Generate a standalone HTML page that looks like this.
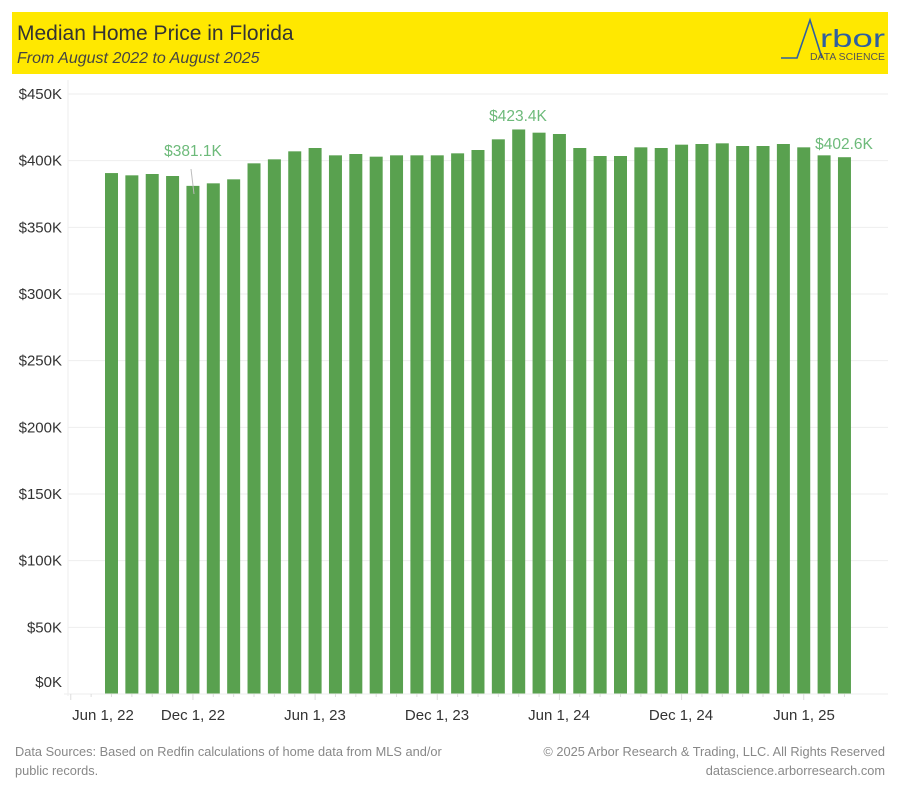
<!DOCTYPE html>
<html><head><meta charset="utf-8"><style>
html,body{margin:0;padding:0;background:#fff;width:900px;height:800px;overflow:hidden}
svg{display:block}
text{font-family:"Liberation Sans",sans-serif}
</style></head><body>
<svg width="900" height="800" viewBox="0 0 900 800" xmlns="http://www.w3.org/2000/svg">
<rect x="12" y="12" width="876" height="62" fill="#FFE800"/>
<text x="17" y="40" font-size="21" fill="#333">Median Home Price in Florida</text>
<text x="17" y="63" font-size="16" font-style="italic" fill="#444">From August 2022 to August 2025</text>
<polyline points="781,58 797,58 810,20 822,58" fill="none" stroke="#2f5fa0" stroke-width="1.6"/>
<text x="820" y="47" font-size="25" fill="#2f5fa0" textLength="65" lengthAdjust="spacingAndGlyphs">rbor</text>
<text x="810" y="60" font-size="10" fill="#555" textLength="75" lengthAdjust="spacingAndGlyphs">DATA SCIENCE</text>
<g id="grid" stroke="#eee" stroke-width="1"></g>
<line x1="68" y1="80" x2="68" y2="696" stroke="#eee"/>
<g id="ylab" font-size="15" fill="#333" text-anchor="end"></g>
<g id="bars" fill="#59A14F"></g>
<line x1="64" y1="694" x2="888" y2="694" stroke="#eee"/>
<g id="ticks" stroke="#ddd"></g>
<g font-size="15" fill="#333" text-anchor="middle">
<text x="103" y="720">Jun 1, 22</text>
<text x="193" y="720">Dec 1, 22</text>
<text x="315" y="720">Jun 1, 23</text>
<text x="437" y="720">Dec 1, 23</text>
<text x="559" y="720">Jun 1, 24</text>
<text x="681" y="720">Dec 1, 24</text>
<text x="804" y="720">Jun 1, 25</text>
</g>
<g font-size="15.5" fill="#6dba7a" text-anchor="middle">
<text x="193" y="156">$381.1K</text>
<text x="518" y="121">$423.4K</text>
<text x="844" y="149">$402.6K</text>
</g>
<line x1="191" y1="169" x2="194" y2="194" stroke="#bbb"/>
<g font-size="12.8" fill="#888">
<text x="15" y="756">Data Sources: Based on Redfin calculations of home data from MLS and/or</text>
<text x="15" y="775">public records.</text>
<text x="885" y="756" text-anchor="end">© 2025 Arbor Research &amp; Trading, LLC. All Rights Reserved</text>
<text x="885" y="775" text-anchor="end">datascience.arborresearch.com</text>
</g>
</svg>
<script>
const ns="http://www.w3.org/2000/svg";
function el(p,t,a,txt){const e=document.createElementNS(ns,t);for(const k in a)e.setAttribute(k,a[k]);if(txt)e.textContent=txt;document.getElementById(p).appendChild(e);}
const labs=["$0K","$50K","$100K","$150K","$200K","$250K","$300K","$350K","$400K","$450K"];
for(let i=0;i<10;i++){const y=694-i*66.667;if(i>0)el("grid","line",{x1:68,x2:888,y1:y,y2:y});el("ylab","text",{x:62,y:(i==0?682:y)+5},labs[i]);}
const v=[390.7,389,390,388.5,381.1,383,386,398,401,407,409.5,404,405,403,404,404,404,405.5,408,416,423.4,421,420,409.5,403.5,403.5,410,409.5,412,412.5,413,411,411,412.5,410,404,402.6];
v.forEach((d,i)=>{const cx=111.5+i*20.36;const h=d*1.33333;el("bars","rect",{x:cx-6.5,y:694-h,width:13,height:h});});
for(let i=-2;i<37;i++){const cx=111.5+i*20.36;const mj=(i+2)%6==0;el("ticks","line",{x1:cx,x2:cx,y1:694,y2:mj?700:697});}
</script>
</body></html>
